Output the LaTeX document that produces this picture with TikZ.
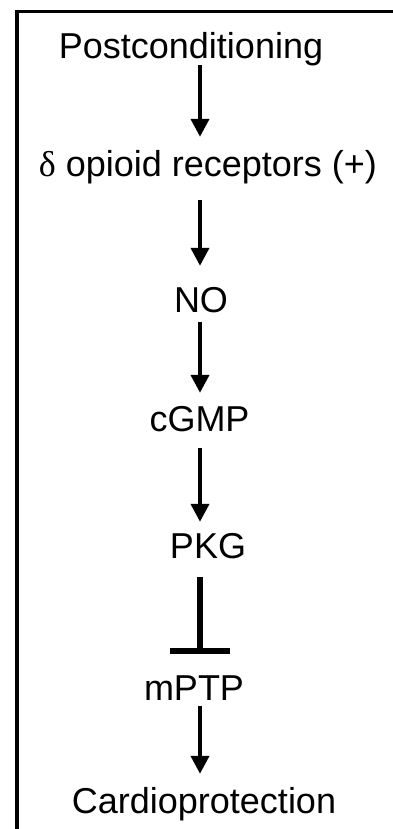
\documentclass[tikz,border=0pt]{standalone}
\usepackage{fontspec}
\setmainfont{Liberation Sans}
\newfontfamily\deltafont{Liberation Serif}
\usetikzlibrary{arrows.meta}
\begin{document}
\begin{tikzpicture}[x=1pt,y=-1pt,
  lab/.style={anchor=base,inner sep=0pt,text height=26pt,text depth=0pt,
    font=\fontsize{36}{43}\selectfont,text=black},
  arr/.style={line width=4pt,-{Triangle[length=18pt,width=18pt]}},
  inhib/.style={line width=6pt,-{Bar[width=60pt]}},
  frame/.style={line width=3.5pt,line join=miter}]
\useasboundingbox (0,0) rectangle (393,829);
\draw[frame] (17,829) -- (17,11.5) -- (393,11.5);
\coordinate (ax) at (200,0);
\node[lab] (post) at (191,59) {Postconditioning};
\node[lab] (delta) at (208,177) {{\deltafont δ} opioid receptors (+)};
\node[lab] (no) at (201,312) {NO};
\node[lab] (cgmp) at (199.5,431) {cGMP};
\node[lab] (pkg) at (208,558) {PKG};
\node[lab] (mptp) at (194,700) {mPTP};
\node[lab] (cardio) at (204,813) {Cardioprotection};
\draw[arr] ([yshift=-6pt]post.south -| ax) -- ([yshift=14pt]delta.north -| ax);
\draw[arr] ([yshift=-23pt]delta.south -| ax) -- ([yshift=20pt]no.north -| ax);
\draw[arr] ([yshift=-10pt]no.south -| ax) -- ([yshift=12pt]cgmp.north -| ax);
\draw[arr] ([yshift=-17pt]cgmp.south -| ax) -- ([yshift=10pt]pkg.north -| ax);
\draw[inhib] ([yshift=-19pt]pkg.south -| ax) -- ([yshift=20pt]mptp.north -| ax);
\draw[arr] ([yshift=-6pt]mptp.south -| ax) -- ([yshift=13pt]cardio.north -| ax);
\end{tikzpicture}
\end{document}
